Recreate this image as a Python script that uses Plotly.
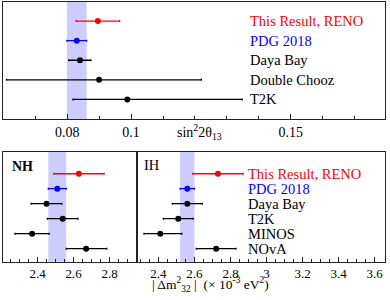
import plotly.graph_objects as go

# ---- data ----
top_labels = ["This Result, RENO", "PDG 2018", "Daya Bay", "Double Chooz", "T2K"]
top_vals = [0.0896, 0.0830, 0.0840, 0.0900, 0.0988]
top_err_lo = [0.0068, 0.0031, 0.0035, 0.0290, 0.0170]
top_err_hi = [0.0068, 0.0031, 0.0034, 0.0320, 0.0360]
top_colors = ["#ff0000", "#0000ff", "black", "black", "black"]

bot_labels = ["This Result, RENO", "PDG 2018", "Daya Bay", "T2K", "MINOS", "NOvA"]
bot_colors = ["#ff0000", "#0000ff", "black", "black", "black", "black"]
nh_vals = [2.63, 2.51, 2.45, 2.54, 2.37, 2.67]
nh_lo = [0.14, 0.05, 0.085, 0.085, 0.095, 0.11]
nh_hi = [0.14, 0.05, 0.085, 0.085, 0.095, 0.115]
ih_vals = [2.73, 2.56, 2.56, 2.51, 2.41, 2.72]
ih_lo = [0.14, 0.04, 0.083, 0.083, 0.09, 0.11]
ih_hi = [0.14, 0.04, 0.083, 0.083, 0.12, 0.11]

top_tickvals = [0.08, 0.1, 0.15]
top_ticktext = ["0.08", "0.1", "0.15"]
bot_tickvals = [2.4, 2.6, 2.8, 3.0, 3.2, 3.4, 3.6]
bot_ticktext = ["2.4", "2.6", "2.8", "3", "3.2", "3.4", "3.6"]

FONT = "Liberation Serif"
W, H = 390, 300

fig = go.Figure()

def add_points(vals, lo, hi, colors, xa, ya):
    n = len(vals)
    for i in range(n):
        row = n - i
        fig.add_trace(go.Scatter(
            x=[vals[i]], y=[row], mode="markers",
            marker=dict(color=colors[i], size=6),
            error_x=dict(type="data", symmetric=False, array=[hi[i]], arrayminus=[lo[i]],
                         color=colors[i], thickness=1.3, width=1),
            xaxis=xa, yaxis=ya, showlegend=False, hoverinfo="skip"))

add_points(top_vals, top_err_lo, top_err_hi, top_colors, "x", "y")
add_points(nh_vals, nh_lo, nh_hi, bot_colors, "x2", "y2")
add_points(ih_vals, ih_lo, ih_hi, bot_colors, "x3", "y3")

band = "rgba(0,0,255,0.2)"
shapes = [
    dict(type="rect", xref="x", yref="y domain", x0=top_vals[1] - top_err_lo[1], x1=top_vals[1] + top_err_hi[1],
         y0=0, y1=1, fillcolor=band, line=dict(width=0), layer="below"),
    dict(type="rect", xref="x2", yref="y2 domain", x0=nh_vals[1] - nh_lo[1], x1=nh_vals[1] + nh_hi[1],
         y0=0, y1=1, fillcolor=band, line=dict(width=0), layer="below"),
    dict(type="rect", xref="x3", yref="y3 domain", x0=ih_vals[1] - ih_lo[1], x1=ih_vals[1] + ih_hi[1],
         y0=0, y1=1, fillcolor=band, line=dict(width=0), layer="below"),
]

annotations = []
for i, lab in enumerate(top_labels):
    annotations.append(dict(text=lab, xref="paper", x=248 / W, xanchor="left", yref="y", y=len(top_labels) - i,
                            yanchor="middle", showarrow=False, font=dict(family=FONT, size=14.5, color=top_colors[i])))
for i, lab in enumerate(bot_labels):
    annotations.append(dict(text=lab, xref="paper", x=246 / W, xanchor="left", yref="y3", y=len(bot_labels) - i,
                            yanchor="middle", showarrow=False, font=dict(family=FONT, size=14.5, color=bot_colors[i])))
annotations.append(dict(text="<b>NH</b>", xref="paper", x=10 / W, xanchor="left", yref="paper", y=1 - 166 / H,
                        yanchor="middle", showarrow=False, font=dict(family=FONT, size=14, color="black")))
annotations.append(dict(text="IH", xref="paper", x=142 / W, xanchor="left", yref="paper", y=1 - 165 / H,
                        yanchor="middle", showarrow=False, font=dict(family=FONT, size=14.5, color="black")))
annotations.append(dict(text="sin<sup>2</sup>2θ<sub>13</sub>", xref="paper", x=200 / W, xanchor="center",
                        yref="paper", y=1 - 132 / H, yanchor="middle", showarrow=False,
                        font=dict(family=FONT, size=14, color="black")))
annotations.append(dict(text="| Δm<sup>2</sup><sub>32</sub> |  (× 10<sup>-3</sup> eV<sup>2</sup>)", xref="paper",
                        x=210 / W, xanchor="center", yref="paper", y=1 - 284 / H, yanchor="middle",
                        showarrow=False, font=dict(family=FONT, size=13.5, color="black")))

frame = dict(showline=True, linecolor="#222", linewidth=1, mirror=True, showgrid=False, zeroline=False)
yax = dict(frame, showticklabels=False, ticks="")

fig.update_layout(
    width=W, height=H, margin=dict(l=0, r=0, t=0, b=0, autoexpand=False),
    paper_bgcolor="white", plot_bgcolor="white",
    font=dict(family=FONT, color="black"),
    shapes=shapes, annotations=annotations,
    xaxis=dict(frame, domain=[3 / W, 385 / W], range=[0.0599, 0.1795], tickmode="array",
               tickvals=top_tickvals, ticktext=top_ticktext, ticks="inside", ticklen=5, tickcolor="#222",
               tickfont=dict(family=FONT, size=14), anchor="y", automargin=False,
               minor=dict(dtick=0.01, tick0=0, ticks="inside", ticklen=3, tickcolor="#222")),
    yaxis=dict(yax, domain=[1 - 119 / H, 1 - 1.5 / H], range=[0, 6], anchor="x", automargin=False),
    xaxis2=dict(frame, domain=[3.3 / W, 136.5 / W], range=[2.21, 2.95], tickmode="array",
                tickvals=bot_tickvals, ticktext=bot_ticktext,
                ticks="inside", ticklen=5, tickcolor="#222", tickfont=dict(family=FONT, size=13), anchor="y2",
                automargin=False,
                minor=dict(dtick=0.05, tick0=0, ticks="inside", ticklen=3, tickcolor="#222")),
    yaxis2=dict(yax, domain=[1 - 261.7 / H, 1 - 151.7 / H], range=[0.13, 7.47], anchor="x2", automargin=False),
    xaxis3=dict(frame, domain=[136.5 / W, 384.5 / W], range=[2.278, 3.655], tickmode="array",
                tickvals=bot_tickvals, ticktext=bot_ticktext,
                ticks="inside", ticklen=5, tickcolor="#222", tickfont=dict(family=FONT, size=13), anchor="y3",
                automargin=False,
                minor=dict(dtick=0.05, tick0=0, ticks="inside", ticklen=3, tickcolor="#222")),
    yaxis3=dict(yax, domain=[1 - 261.7 / H, 1 - 151.7 / H], range=[0.13, 7.47], anchor="x3", automargin=False),
)

fig.write_html("out.html", config={"displayModeBar": False},
               post_script="document.body.style.margin='0';document.body.style.padding='0';"
                           "document.documentElement.style.overflow='hidden';")
